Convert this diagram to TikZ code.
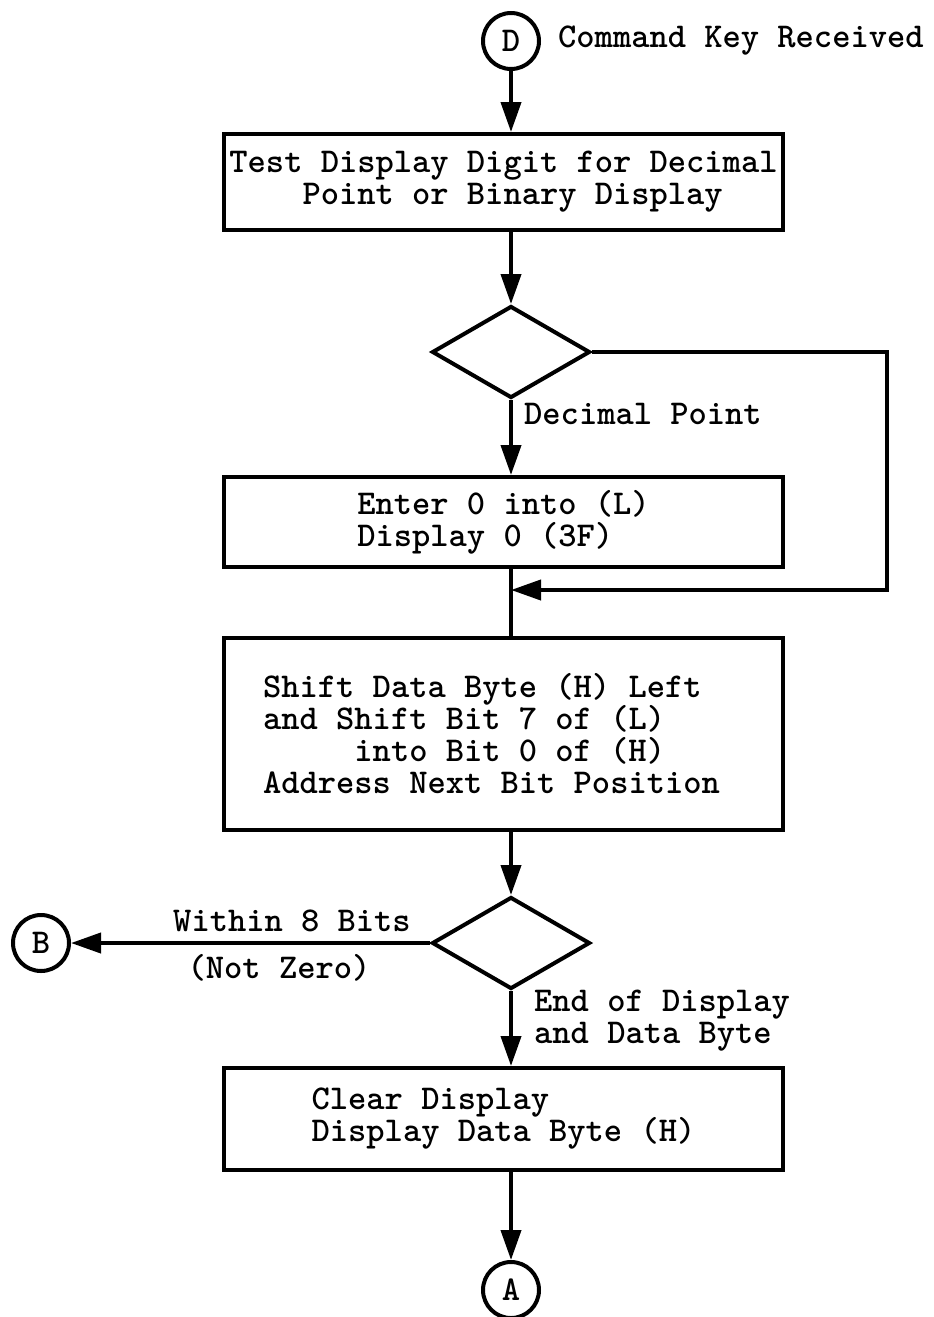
\documentclass[tikz,border=0pt]{standalone}
\usepackage{fontspec}
\usetikzlibrary{shapes.geometric,positioning,calc,arrows.meta}
\tikzset{BOX/.style={rectangle,draw,line width=4pt,minimum width=559pt,align=left,inner sep=0pt}}
\tikzset{DECISION/.style={diamond,draw,line width=4pt,minimum width=158pt,minimum height=92pt,inner sep=0pt}}
\tikzset{CONNECTOR/.style={circle,draw,line width=4pt,minimum size=56pt,inner sep=0pt}}
\tikzset{ARROW/.style={line width=4pt,-{Triangle[length=30pt,width=20pt]}}}
\tikzset{LINE/.style={line width=4pt}}
\tikzset{LABEL/.style={inner sep=0pt,align=left}}

\begin{document}
\begin{tikzpicture}[x=1pt,y=-1pt,font=\fontsize{34.8}{32}\selectfont\ttfamily\bfseries]
\useasboundingbox (0,0) rectangle (934,1317);

\node[CONNECTOR] (n_entry_d) at (511,41) {D};
\node[LABEL, anchor=west] (n_entry_text) at (558,41) {Command Key Received};

\node[BOX, minimum height=96pt] (n_test_digit) at (503.5,182) {Test Display Digit for Decimal\\\phantom{xxxx}Point or Binary Display};
\draw[ARROW] (n_entry_d) -- (n_test_digit.north-|n_entry_d);

\node[DECISION] (n_point_check) at (511,352) {};
\draw[ARROW] (n_test_digit.south-|n_point_check) -- (n_point_check.north);

\node[BOX, minimum height=90pt] (n_enter_zero) at (503.5,522) {Enter 0 into (L)\\Display 0 (3F)};
\draw[ARROW] (n_point_check.south) -- (n_enter_zero.north-|n_point_check);
\node[LABEL, anchor=west] (n_lbl_point) at ($(n_point_check.south)+(13,14)$) {Decimal Point};

% binary display skips the zero entry
\coordinate (c_loop_join) at ($(n_enter_zero.south-|n_point_check)+(0,21)$);
\coordinate (c_loop_right) at ($(n_point_check.east)+(295,0)$);
\draw[ARROW] (n_point_check.east) -- (c_loop_right) |- (c_loop_join);

\node[BOX, minimum height=192pt] (n_shift) at (503.5,734) {Shift Data Byte (H) Left\\and Shift Bit 7 of (L)\\\phantom{xxxxx}into Bit 0 of (H)\\Address Next Bit Position\hspace*{24pt}};
\draw[LINE] (n_enter_zero.south-|n_point_check) -- (n_shift.north-|n_point_check);

\node[DECISION] (n_bits_check) at (511,943) {};
\draw[ARROW] (n_shift.south-|n_bits_check) -- (n_bits_check.north);

\node[CONNECTOR] (n_exit_b) at (41,943) {B};
\draw[ARROW] (n_bits_check.west) -- (n_exit_b.east);
\node[LABEL] (n_lbl_within) at (292,921) {Within 8 Bits};
\node[LABEL] (n_lbl_notzero) at (279,968) {(Not Zero)};

\node[BOX, minimum height=102pt] (n_clear) at (503.5,1119) {Clear Display\\Display Data Byte (H)};
\draw[ARROW] (n_bits_check.south) -- (n_clear.north-|n_bits_check);
\node[LABEL, anchor=west] (n_lbl_end) at ($(n_bits_check.south)+(23,30)$) {End of Display\\and Data Byte};

\node[CONNECTOR] (n_exit_a) at (511,1290) {A};
\draw[ARROW] (n_clear.south-|n_exit_a) -- (n_exit_a.north);

\end{tikzpicture}
\end{document}
